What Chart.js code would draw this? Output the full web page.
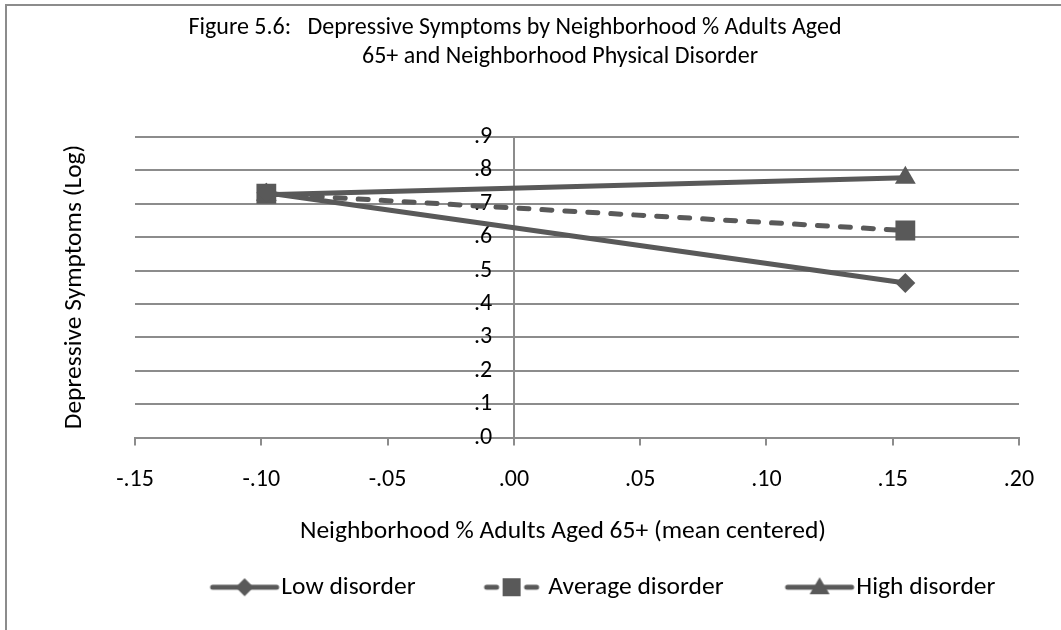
<!DOCTYPE html>
<html><head><meta charset="utf-8">
<script src="https://cdn.jsdelivr.net/npm/chart.js@4/dist/chart.umd.min.js"></script>
<style>html,body{margin:0;padding:0;background:#fff;}#wrap{position:relative;width:1061px;height:630px;}</style>
</head><body><div id="wrap"><canvas id="c" width="1061" height="630"></canvas></div>
<script>
// ---- data ----
const xValues = [-0.098, 0.155];
const lowDisorder = [0.733, 0.463];
const averageDisorder = [0.730, 0.620];
const highDisorder = [0.727, 0.778];
const seriesNames = ['Low disorder', 'Average disorder', 'High disorder'];
const titleLines = ['Figure 5.6:   Depressive Symptoms by Neighborhood % Adults Aged', '65+ and Neighborhood Physical Disorder'];
const xTitle = 'Neighborhood % Adults Aged 65+ (mean centered)';
const yTitle = 'Depressive Symptoms (Log)';
const xRange = [-0.15, 0.20, 0.05];
const yRange = [0, 0.9, 0.1];

// ---- style ----
const FONT = '"Carlito", "Lato", "Liberation Sans", sans-serif';
const FS_TITLE = 24, FS_TICK = 24, FS_AXIS = 25.5, FS_LEG = 25.5;
const LINE = '#595959';
const GRID = '#8c8c8c';

function pts(vals){ return xValues.map((x,i)=>({x:x, y:vals[i]})); }

const BOXW = 110;
function legendIcon(kind, dashed){
  const c = document.createElement('canvas');
  c.width = BOXW + 26; c.height = 24;
  const g = c.getContext('2d');
  const o = c.width - 72; // content offset (content 70px wide)
  g.strokeStyle = LINE; g.fillStyle = LINE; g.lineWidth = 5; g.lineCap = 'round';
  g.beginPath();
  if (dashed) { g.moveTo(o+10,12); g.lineTo(o+20,12); g.moveTo(o+50,12); g.lineTo(o+60,12); }
  else { g.moveTo(o+3,12); g.lineTo(o+67,12); }
  g.stroke();
  const cx = o + 35;
  g.beginPath();
  if (kind === 'diamond') { g.moveTo(cx,3); g.lineTo(cx+9,12); g.lineTo(cx,21); g.lineTo(cx-9,12); }
  else if (kind === 'square') { g.rect(cx-9,3,18,18); }
  else { g.moveTo(cx,2); g.lineTo(cx+10,19); g.lineTo(cx-10,19); }
  g.closePath(); g.fill();
  return c;
}
const icons = [legendIcon('diamond',false), legendIcon('square',true), legendIcon('triangle',false)];

const textPlugin = {
  id: 'customText',
  afterDraw(chart){
    const ctx = chart.ctx;
    ctx.save();
    ctx.strokeStyle = '#8c8c8c'; ctx.lineWidth = 2;
    ctx.strokeRect(6, 5, 1070, 640);
    ctx.fillStyle = '#000';
    ctx.font = FS_TITLE + 'px ' + FONT;
    ctx.textBaseline = 'middle';
    ctx.textAlign = 'center';
    ctx.fillText(titleLines[0], 515, 28);
    ctx.fillText(titleLines[1], 560, 57);
    ctx.font = FS_AXIS + 'px ' + FONT;
    ctx.fillText(xTitle, 563, 532);
    ctx.translate(75, 287);
    ctx.rotate(-Math.PI/2);
    ctx.fillText(yTitle, 0, 0);
    ctx.restore();
  }
};

const datasets = [
  {label: seriesNames[0], data: pts(lowDisorder), pointStyle: 'rectRot', pointRadius: 10},
  {label: seriesNames[1], data: pts(averageDisorder), pointStyle: 'rect', pointRadius: 14, borderDash: [10, 13]},
  {label: seriesNames[2], data: pts(highDisorder), pointStyle: 'triangle', pointRadius: 12}
].map(d => Object.assign({
  borderColor: LINE, backgroundColor: LINE, pointBackgroundColor: LINE, pointBorderColor: LINE,
  borderWidth: 5, pointBorderWidth: 0, pointHoverRadius: d.pointRadius, tension: 0, borderCapStyle: 'round'
}, d));

new Chart(document.getElementById('c'), {
  type: 'line',
  data: {datasets: datasets},
  options: {
    responsive: false,
    animation: false,
    events: [],
    layout: {padding: {left: 135, right: 42, top: 137, bottom: 20}},
    plugins: {
      title: {display: false},
      tooltip: {enabled: false},
      legend: {
        position: 'bottom',
        labels: {
          usePointStyle: true,
          pointStyleWidth: BOXW,
          boxHeight: 24,
          padding: 10,
          color: '#000',
          font: {family: FONT, size: FS_LEG},
          generateLabels(chart){
            return seriesNames.map((n,i)=>({text: n, pointStyle: icons[i], fillStyle: LINE, strokeStyle: LINE, lineWidth: 0, hidden: false, datasetIndex: i}));
          }
        }
      }
    },
    scales: {
      x: {
        type: 'linear',
        min: xRange[0], max: xRange[1],
        afterBuildTicks(s){ s.ticks = []; for (let i=0;i<=7;i++){ s.ticks.push({value: +(xRange[0] + i*xRange[2]).toFixed(2)}); } },
        afterFit(s){ s.height = 127; },
        ticks: {
          color: '#000', font: {family: FONT, size: FS_TICK}, padding: 20, maxRotation: 0,
          callback: v => (+v).toFixed(2).replace('0.', '.')
        },
        grid: {drawOnChartArea: false, drawTicks: true, tickLength: 8, color: GRID, lineWidth: 2},
        border: {display: true, color: GRID, width: 2},
        title: {display: false}
      },
      y: {
        type: 'linear',
        position: {x: 0},
        min: yRange[0], max: yRange[1],
        afterBuildTicks(s){ s.ticks = []; for (let i=0;i<=9;i++){ s.ticks.push({value: +(yRange[0] + i*yRange[2]).toFixed(1)}); } },
        ticks: {
          color: '#000', font: {family: FONT, size: FS_TICK},
          callback: v => (+v).toFixed(1).replace('0.', '.') + '    '
        },
        grid: {color: GRID, lineWidth: 2, drawTicks: true, tickLength: 8},
        border: {display: true, color: GRID, width: 2}
      }
    }
  },
  plugins: [textPlugin]
});
</script></body></html>
